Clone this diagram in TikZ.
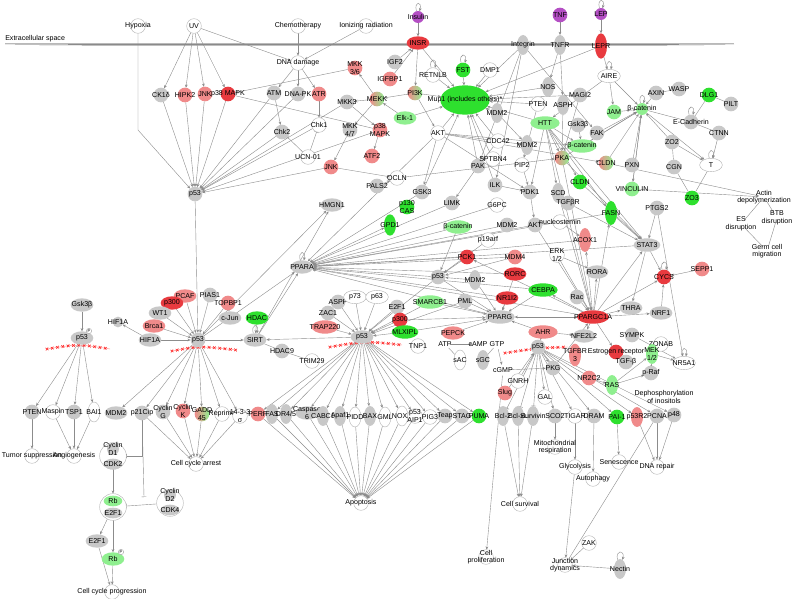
\documentclass[tikz,border=0pt]{standalone}
\usepackage{fontspec}
\setmainfont{Liberation Sans}
\usetikzlibrary{shapes.geometric,arrows.meta,backgrounds,decorations.markings}
\definecolor{ngray}{HTML}{C8C8C8}
\definecolor{nred}{HTML}{E83A3F}
\definecolor{nlred}{HTML}{F08A8A}
\definecolor{ngreen}{HTML}{2EE02E}
\definecolor{nlgreen}{HTML}{8FEF8F}
\definecolor{npurple}{HTML}{B44FC4}
\definecolor{ecol}{HTML}{8C8C8C}
\newcommand\fsz{\fontsize{5.3}{5.7}\selectfont}
\newcommand\Nd[5]{\node[#1,label={[lab]center:{#5}}] (#2) at (#3,#4) {};}
\tikzset{
 nb/.style={inner sep=0pt,outer sep=0pt,line width=0.3pt},
 cir/.style={nb,circle,minimum size=11pt},
 ell/.style={nb,ellipse,minimum width=17pt,minimum height=10pt},
 vel/.style={nb,ellipse,minimum width=9pt,minimum height=15pt},
 tx/.style={nb,circle,minimum size=8pt},
 gy/.style={fill=ngray},
 wh/.style={fill=white,draw=gray!60},
 rd/.style={fill=nred},
 lr/.style={fill=nlred},
 gr/.style={fill=ngreen},
 lg/.style={fill=nlgreen},
 pu/.style={fill=npurple},
 rg/.style={left color=nlred,right color=nlgreen},
 lab/.style={font=\fsz,align=center,inner sep=0pt,text=black},
 ed/.style={draw=ecol,line width=0.3pt,-{Stealth[length=2.4pt,width=2pt]}},
 inh/.style={draw=ecol,line width=0.3pt,-{Bar[width=3.5pt]}},
 ln/.style={draw=ecol,line width=0.3pt},
 lp/.style={ed,loop above,min distance=8pt},
 zz/.style={draw=red!50,line width=0.3pt,postaction={decorate},decoration={markings,mark=between positions 0 and 1 step 4pt with {\draw[red!85,line width=0.45pt] (-1pt,-1pt)--(1pt,1pt) (-1pt,1pt)--(1pt,-1pt);}}},
}
\begin{document}
\begin{tikzpicture}[x=0.75pt,y=-0.75pt]
\useasboundingbox (0,0) rectangle (794,599);
\node[lab,anchor=west] (ecs) at (5,39) {Extracellular space};
% ---- top
\Nd{cir,wh}{hyp}{138}{26}{Hypoxia}
\Nd{cir,wh}{uv}{194}{26}{UV}
\Nd{cir,wh}{chemo}{298}{26}{Chemotherapy}
\Nd{cir,wh}{ion}{366}{26}{Ionizing radiation}
\Nd{cir,pu,minimum size=9pt}{insulin}{418}{17}{Insulin}
\Nd{cir,pu}{tnf}{560}{15}{TNF}
\Nd{cir,pu,minimum size=9pt}{lep}{601}{14}{LEP}
\Nd{ell,rd}{insr}{418}{43}{INSR}
\Nd{vel,gy}{integrin}{523}{45}{Integrin}
\Nd{vel,gy}{tnfr}{560}{45}{TNFR}
\Nd{vel,rd,minimum height=19pt}{lepr}{601}{46}{LEPR}
\Nd{cir,wh}{dnad}{298}{63}{DNA damage}
\Nd{cir,lr}{mkk36}{355}{68}{MKK\\3/6}
\Nd{cir,gy}{igf2}{395}{62}{IGF2}
\Nd{cir,lr}{igfbp1}{390}{79}{IGFBP1}
\Nd{cir,wh}{retnlb}{433}{75}{RETNLB}
\Nd{cir,gr}{fst}{463}{70}{FST}
\Nd{cir,wh}{dmp1}{490}{70}{DMP1}
\Nd{ell,wh}{aire}{609}{76}{AIRE}
\Nd{vel,gy}{nos}{548}{87}{NOS}
\Nd{cir,gy}{magi2}{580}{95}{MAGI2}
\Nd{cir,gy}{axin}{656}{93}{AXIN}
\Nd{cir,gy}{wasp}{679}{89}{WASP}
\Nd{cir,gr}{dlg1}{709}{95}{DLG1}
\Nd{cir,gy}{pilt}{731}{104}{PILT}
\Nd{cir,gy}{ck1d}{161}{95}{CK1δ}
\Nd{cir,lr}{hipk2}{185}{95}{HIPK2}
\Nd{cir,lr}{jnk1}{205}{94}{JNK}
\Nd{cir,rd}{p38a}{228}{94}{p38 MAPK}
\Nd{cir,gy}{atm}{274}{93}{ATM}
\Nd{cir,gy}{dnapk}{298}{94}{DNA-PK}
\Nd{cir,lr}{atr}{319}{94}{ATR}
\Nd{cir,gy}{mkk3}{347}{102}{MKK3}
\Nd{cir,rg}{mekk}{377}{99}{MEKK}
\Nd{cir,rg}{pi3k}{415}{93}{PI3K}
\node[nb,ellipse,gr,minimum width=37pt,minimum height=22pt,label={[lab]center:{Mup1 (includes others)*}}] (mup1) at (465,100) {};
\Nd{vel,gy}{mdm2a}{497}{113}{MDM2}
\Nd{cir,wh}{pten1}{538}{104}{PTEN}
\Nd{vel,gy}{asph}{563}{105}{ASPH}
\Nd{ell,lg}{elk1}{405}{118}{Elk-1}
\Nd{cir,wh}{akt1}{438}{133}{AKT}
\Nd{cir,lg}{jam}{614}{112}{JAM}
\Nd{cir,lg,minimum size=9pt}{bcat1}{642}{109}{β-catenin}
\Nd{cir,gy}{ecad}{691}{122}{E-Cadherin}
\Nd{ell,lg,minimum width=22pt}{htt}{545}{123}{HTT}
\Nd{cir,gy}{gsk3b1}{578}{125}{Gsk3β}
\Nd{ell,lg,minimum width=22pt}{bcat2}{582}{146}{β-catenin}
\Nd{cir,gy}{fak}{597}{133}{FAK}
\Nd{cir,gy}{ctnn}{719}{133}{CTNN}
\Nd{cir,gy}{zo2}{672}{142}{ZO2}
\Nd{cir,gy}{mkk47}{350}{130}{MKK\\4/7}
\Nd{cir,lr}{p38b}{380}{130}{p38\\MAPK}
\Nd{cir,gy}{chk2}{282}{132}{Chk2}
\Nd{cir,wh}{chk1}{319}{125}{Chk1}
\Nd{cir,wh}{cdc42}{498}{141}{CDC42}
\Nd{vel,gy}{mdm2b}{527}{145}{MDM2}
\Nd{cir,gy}{cgn}{674}{167}{CGN}
\Nd{ell,wh}{tt}{711}{165}{T}
\Nd{cir,lr}{atf2}{372}{156}{ATF2}
\Nd{cir,wh}{ucn}{308}{157}{UCN-01}
\Nd{cir,gy}{pak}{478}{166}{PAK}
\Nd{cir,wh}{sptbn4}{493}{159}{SPTBN4}
\Nd{cir,wh}{pip2}{522}{165}{PIP2}
\Nd{cir,rg}{pka}{562}{158}{PKA}
\Nd{cir,rg}{cldn1}{606}{163}{CLDN}
\Nd{cir,gy}{pxn}{632}{165}{PXN}
\Nd{cir,lg}{vinc}{632}{189}{VINCULIN}
\Nd{cir,gr}{zo3}{692}{198}{ZO3}
\Nd{tx}{actin}{764}{197}{Actin\\depolymerization}
\Nd{cir,lr}{jnk2}{331}{167}{JNK}
\Nd{cir,wh}{ocln}{397}{178}{OCLN}
\Nd{cir,gy}{pals2}{377}{186}{PALS2}
\Nd{cir,gy}{gsk3}{422}{192}{GSK3}
\Nd{cir,gy}{ilk}{495}{185}{ILK}
\Nd{cir,gy}{pdk1}{530}{192}{PDK1}
\Nd{vel,gy}{scd}{558}{193}{SCD}
\Nd{cir,gr}{cldn2}{580}{182}{CLDN}
\Nd{cir,gy}{tgfbr}{568}{203}{TGFβR}
\Nd{cir,gy}{limk}{452}{203}{LIMK}
\Nd{cir,wh}{g6pc}{497}{205}{G6PC}
\Nd{cir,gr}{p130}{407}{207}{p130\\CAS}
\Nd{ell,gy}{hmgn1}{332}{205}{HMGN1}
\Nd{cir,gy}{mdm2c}{507}{225}{MDM2}
\Nd{cir,gy}{akt2}{535}{225}{AKT}
\Nd{cir,wh}{nucl}{560}{222}{nucleostemin}
\Nd{vel,gr,minimum height=18pt}{fasn}{611}{213}{FASN}
\Nd{cir,gy}{ptgs2}{657}{208}{PTGS2}
\Nd{tx}{es}{741}{224}{ES\\disruption}
\Nd{tx}{btb}{777}{218}{BTB\\disruption}
\Nd{tx}{germ}{767}{251}{Germ cell\\migration}
\Nd{vel,gr,minimum height=16pt}{gpd1}{390}{225}{GPD1}
\Nd{ell,lg,minimum width=20pt}{bcat3}{458}{227}{β-catenin}
\Nd{vel,lr,minimum height=18pt}{acox1}{585}{240}{ACOX1}
\Nd{cir,wh}{p19}{488}{240}{p19arf}
\Nd{ell,gy,minimum width=20pt}{stat3}{647}{245}{STAT3}
\Nd{cir,wh}{erk}{557}{255}{ERK\\1/2}
\Nd{ell,gy}{ppara}{302}{267}{PPARA}
\Nd{cir,rd}{pck1}{467}{257}{PCK1}
\Nd{cir,lr}{mdm4}{515}{257}{MDM4}
\Nd{ell,rd}{rorc}{515}{274}{RORC}
\Nd{cir,gy}{p53e}{438}{277}{p53}
\Nd{vel,gy}{mdm2d}{475}{280}{MDM2}
\Nd{ell,gy}{rora}{597}{272}{RORA}
\Nd{cir,rd}{cycs}{664}{277}{CYCS}
\Nd{cir,lr}{sepp1}{702}{269}{SEPP1}
\Nd{ell,gr,minimum width=22pt}{cebpa}{543}{290}{CEBPA}
\Nd{ell,rd}{nr1i2}{507}{298}{NR1I2}
\Nd{cir,gy}{rac}{577}{297}{Rac}
\Nd{ell,lg,minimum width=22pt}{smarcb1}{430}{302}{SMARCB1}
\Nd{cir,gy}{pml}{465}{301}{PML}
\Nd{cir,gy}{aspp}{338}{302}{ASPP}
\Nd{ell,wh}{p73}{355}{297}{p73}
\Nd{ell,wh}{p63}{377}{297}{p63}
\Nd{cir,gy}{e2f1a}{397}{307}{E2F1}
\Nd{cir,gy}{zac1}{328}{313}{ZAC1}
\Nd{ell,lr,minimum width=20pt}{trap220}{325}{327}{TRAP220}
\Nd{cir,rd}{p300b}{400}{320}{p300}
\Nd{ell,gr,minimum width=20pt}{mlxipl}{405}{332}{MLXIPL}
\Nd{ell,gy,minimum width=22pt}{pparg}{500}{317}{PPARG}
\Nd{ell,rd,minimum width=24pt}{ppargc1a}{593}{317}{PPARGC1A}
\Nd{ell,gy}{thra}{631}{308}{THRA}
\Nd{ell,gy}{nrf1}{661}{313}{NRF1}
\Nd{cir,gy}{sympk}{632}{335}{SYMPK}
\Nd{cir,wh}{zonab}{661}{344}{ZONAB}
\Nd{ell,wh}{nr5a1}{684}{363}{NR5A1}
\Nd{ell,lr,minimum width=22pt}{ahr}{543}{332}{AHR}
\Nd{ell,gy}{nfe2l2}{584}{336}{NFE2L2}
\Nd{cir,rd}{estr}{616}{352}{Estrogen receptor}
\Nd{cir,gy}{tgfb}{626}{362}{TGF-β}
\Nd{vel,lg}{mek12}{652}{354}{MEK\\1/2}
\Nd{cir,gy}{praf}{651}{373}{p-Raf}
\Nd{vel,lr,minimum height=17pt}{tgfbr3}{575}{355}{TGFBR\\3}
\Nd{cir,lr}{nr2c2}{589}{378}{NR2C2}
\Nd{vel,lg}{ras}{612}{385}{RAS}
\Nd{tx}{deph}{664}{397}{Dephosphorylation\\of inositols}
\Nd{cir,gy}{p53d}{538}{347}{p53}
\Nd{ell,lr}{pepck}{453}{333}{PEPCK}
\Nd{cir,wh}{tnp1}{418}{346}{TNP1}
\Nd{tx}{atp}{445}{344}{ATP}
\Nd{tx}{camp}{478}{344}{cAMP}
\Nd{tx}{gtp}{497}{344}{GTP}
\Nd{vel,wh}{sac}{460}{360}{sAC}
\Nd{vel,gy}{sgc}{483}{360}{sGC}
\Nd{tx}{cgmp}{503}{370}{cGMP}
\Nd{cir,gy}{pkg}{553}{368}{PKG}
\Nd{cir,wh}{gnrh}{518}{381}{GNRH}
\Nd{cir,lr}{slug}{505}{393}{Slug}
\Nd{cir,wh}{gal}{545}{397}{GAL}
\Nd{ell,gy}{sirt}{255}{340}{SIRT}
\Nd{ell,gr}{hdac}{257}{318}{HDAC}
\Nd{cir,gy}{hdac9}{282}{351}{HDAC9}
\Nd{cir,wh}{trim29}{312}{361}{TRIM29}
\Nd{ell,gy}{p53c}{362}{337}{p53}
\Nd{ell,gy}{cjun}{230}{318}{c-Jun}
\Nd{cir,lr}{topbp1}{228}{303}{TOPBP1}
\Nd{cir,gy}{pias1}{210}{295}{PIAS1}
\Nd{cir,gy}{p53a}{195}{194}{p53}
\Nd{cir,gy}{p53b}{198}{340}{p53}
\Nd{ell,lr}{pcaf}{185}{296}{PCAF}
\Nd{ell,rd}{p300a}{172}{303}{p300}
\Nd{ell,gy}{wt1}{160}{313}{WT1}
\Nd{ell,lr}{brca1}{154}{326}{Brca1}
\Nd{cir,gy,minimum size=8pt}{hif1a}{118}{322}{HIF1A}
\Nd{ell,gy}{hif1b}{150}{340}{HIF1A}
\Nd{ell,gy}{gsk3b2}{82}{305}{Gsk3β}
\Nd{ell,gy}{p53l}{82}{338}{p53}
\node[nb,circle,draw=gray!70,fill=white,font=\fontsize{3}{3}\selectfont,minimum size=4pt] (pm1) at (89,331) {P};
% ---- bottom row
\Nd{cir,gy}{pten2}{32}{412}{PTEN}
\Nd{cir,wh}{maspin}{53}{412}{Maspin}
\Nd{cir,gy}{tsp1}{74}{412}{TSP1}
\Nd{vel,wh}{bai1}{94}{412}{BAI1}
\Nd{ell,gy}{mdm2e}{116}{413}{MDM2}
\Nd{cir,gy}{p21}{142}{413}{p21Cip}
\Nd{cir,gy}{cycg}{163}{412}{Cyclin\\G}
\Nd{cir,lr}{cyck}{183}{411}{Cyclin\\K}
\Nd{cir,rg}{gadd}{202}{414}{GADD\\45}
\Nd{cir,wh}{reprimo}{222}{414}{Reprimo}
\Nd{cir,wh}{s1433}{240}{416}{14-3-3\\σ}
\Nd{cir,lr}{perp}{258}{414}{PERP}
\Nd{vel,gy}{fas}{272}{414}{FAS}
\Nd{vel,gy}{dr45}{286}{414}{DR4/5}
\Nd{ell,gy}{casp6}{307}{413}{Caspase\\6}
\Nd{vel,gy}{cabc1}{323}{416}{CABC1}
\Nd{vel,gy}{apaf1}{340}{416}{Apaf1}
\Nd{vel,wh}{pidd}{355}{417}{PIDD}
\Nd{vel,gy}{bax}{370}{416}{BAX}
\Nd{vel,wh}{gml}{385}{417}{GML}
\Nd{vel,wh}{noxa}{402}{416}{NOXA}
\Nd{cir,wh}{aip1}{415}{416}{p53\\AIP1}
\Nd{cir,wh}{pig3}{430}{417}{PIG3}
\Nd{cir,gy}{teap}{445}{416}{Teap}
\Nd{cir,gy}{stag}{462}{416}{STAG}
\Nd{cir,gr}{puma}{479}{416}{PUMA}
\Nd{vel,gy}{bcl2}{503}{416}{Bcl-2}
\Nd{vel,gy}{bclxl}{518}{416}{Bcl-xL}
\Nd{vel,gy}{surv}{533}{416}{Survivin}
\Nd{cir,gy}{sco2}{555}{416}{SCO2}
\Nd{cir,wh}{tigar}{575}{416}{TIGAR}
\Nd{cir,gy}{dram}{594}{416}{DRAM}
\Nd{cir,gr}{pai1}{617}{417}{PAI-1}
\Nd{vel,lr}{p53r2}{637}{417}{p53R2}
\Nd{cir,gy}{pcna}{657}{416}{PCNA}
\Nd{cir,gy}{p48}{674}{415}{p48}
% ---- functions
\Nd{cir,wh}{tumsup}{32}{456}{Tumor suppression}
\Nd{cir,wh}{angio}{74}{456}{Angiogenesis}
\Nd{cir,wh}{cca}{196}{464}{Cell cycle arrest}
\Nd{cir,wh}{apop}{361}{503}{Apoptosis}
\Nd{cir,wh}{mito}{555}{447}{Mitochondrial\\respiration}
\Nd{cir,wh}{glyc}{575}{467}{Glycolysis}
\Nd{cir,wh}{auto}{593}{479}{Autophagy}
\Nd{cir,wh}{senes}{619}{462}{Senescence}
\Nd{cir,wh}{dnar}{657}{467}{DNA repair}
\Nd{cir,wh}{csurv}{520}{504}{Cell survival}
\Nd{cir,wh}{cprol}{486}{557}{Cell\\proliferation}
\Nd{cir,wh}{zak}{589}{543}{ZAK}
\Nd{cir,wh}{junc}{565}{565}{Junction\\dynamics}
\Nd{vel,gy}{nectin}{620}{569}{Nectin}
\Nd{cir,wh}{ccp}{112}{592}{Cell cycle progression}
% ---- complexes
\node[nb,circle,draw=gray!60,fill=white,minimum size=20pt] (cd1) at (113,456) {};
\Nd{cir,gy,minimum size=9pt}{cd1a}{113}{449}{Cyclin\\D1}
\Nd{ell,gy,minimum width=14pt,minimum height=8pt}{cd1b}{113}{464}{CDK2}
\node[nb,circle,draw=gray!60,fill=white,minimum size=20pt] (rbc) at (113,507) {};
\Nd{ell,lg,minimum width=14pt,minimum height=8pt}{rba}{113}{501}{Rb}
\Nd{ell,gy,minimum width=14pt,minimum height=8pt}{rbb}{113}{513}{E2F1}
\node[nb,circle,draw=gray!60,fill=white,minimum size=20pt] (cd2) at (170,503) {};
\Nd{cir,gy,minimum size=9pt}{cd2a}{170}{495}{Cyclin\\D2}
\Nd{ell,gy,minimum width=14pt,minimum height=8pt}{cd2b}{170}{510}{CDK4}
\Nd{ell,gy}{e2f1b}{97}{541}{E2F1}
\Nd{ell,lg}{rb2}{113}{559}{Rb}
\node[nb,circle,draw=gray!70,fill=white,font=\fontsize{3}{3}\selectfont,minimum size=4pt] (pm2) at (121,552) {P};
\coordinate (p21e) at (144,497);
% ================= edges
\begin{pgfonlayer}{background}
\fill[white] (0,0) rectangle (794,599);
\draw[gray!55,line width=0.3pt] (5,43) -- (734,43);
\fill[gray!60!black] (5,44.8) -- (90,44.4) -- (660,44.4) -- (734,44.8) -- (660,45.3) -- (90,45.3) -- cycle;
\draw[ed] (hyp) -- (138,130) -- (p53a);
\foreach \a/\b in {uv/ck1d,uv/hipk2,uv/jnk1,uv/p38a,uv/dnad,chemo/dnad,ion/dnad,dnad/atm,dnad/dnapk,dnad/atr,atm/chk2,atr/chk1,
 ck1d/p53a,hipk2/p53a,jnk1/p53a,p38a/p53a,atm/p53a,dnapk/p53a,chk2/p53a,chk1/p53a,p38b/p53a,jnk2/p53a,mkk3/p53a,
 mkk36/p38a,mekk/mkk36,mekk/mkk3,mekk/mkk47,mkk3/p38b,mkk47/jnk2,p38b/atf2,elk1/mekk,pi3k/mekk,insulin/insr,insr/pi3k,igf2/insr,igfbp1/insr,pi3k/akt1,tnf/tnfr,lep/lepr,tnfr/nos,p53a/p53b,
 insr/mup1,fst/mup1,dmp1/mup1,retnlb/mup1,pi3k/mup1,akt1/mup1,mdm2a/mup1,pten1/mup1,nos/mup1,cdc42/mup1,pak/mup1,ilk/mup1,gsk3/mup1,magi2/mup1,htt/mup1,sptbn4/mup1,elk1/mup1,lepr/mup1,integrin/mup1,
 integrin/ilk,integrin/fak,integrin/pak,tnfr/asph,lepr/aire,aire/jam,aire/htt,aire/bcat1,htt/pka,htt/cldn2,htt/scd,htt/fasn,htt/stat3,htt/pdk1,htt/bcat2,gsk3b1/bcat2,bcat2/bcat1,pka/bcat1,fak/bcat1,cldn1/bcat1,pxn/bcat1,jam/bcat1,vinc/bcat1,zo2/bcat1,bcat1/tt,ctnn/tt,zo2/tt,bcat1/vinc,axin/bcat1,cldn1/actin,vinc/actin,
 akt1/gsk3,akt1/mdm2b,akt1/ppara,akt1/pdk1,akt1/cldn1,akt1/bcat2,pak/limk,cdc42/pak,ilk/pdk1,pdk1/akt2,pip2/pdk1,mdm2a/mdm2b,pten1/pip2,asph/pka,magi2/pka,pals2/ocln,ocln/pka,gsk3/ppara,jnk2/ocln,sirt/hmgn1,p53b/hmgn1,p53b/ppara,
 p53e/ppara,pck1/ppara,mdm4/ppara,rorc/ppara,nr1i2/ppara,cebpa/ppara,pparg/ppara,akt2/ppara,mdm2c/ppara,stat3/ppara,fasn/ppara,acox1/ppara,ppargc1a/ppara,bcat3/ppara,ppara/gpd1,g6pc/ppara,limk/ppara,
 ppargc1a/nrf1,ppargc1a/thra,ppargc1a/cycs,ppargc1a/stat3,ppargc1a/fasn,ppargc1a/acox1,ppargc1a/rora,ppargc1a/estr,ppargc1a/nfe2l2,ppargc1a/pparg,ppargc1a/pck1,ppargc1a/cebpa,nrf1/cycs,sepp1/cycs,stat3/thra,erk/ppargc1a,rac/ppargc1a,akt2/ppargc1a,pkg/ppargc1a,htt/ppargc1a,scd/ppargc1a,tgfbr/stat3,nucl/acox1,erk/rora,stat3/cycs,ptgs2/stat3,fasn/stat3,pka/stat3,cldn2/stat3,pka/ppargc1a,
 cebpa/pparg,nr1i2/pparg,ahr/pparg,pepck/pparg,p53e/pparg,smarcb1/pparg,pml/pparg,mlxipl/pparg,p300b/pparg,rorc/pparg,mdm2d/pparg,
 mdm2d/p53e,mdm4/p53e,p19/p53e,pck1/p53e,bcat3/p53e,ahr/nfe2l2,mek12/nr5a1,sympk/nr5a1,praf/mek12,ras/praf,ras/mek12,nr2c2/ras,tgfb/estr,ptgs2/nr5a1,zonab/mek12,
 atp/camp,gtp/cgmp,cgmp/pkg,p53d/pkg,p53d/gal,gnrh/p53d,slug/p53d,ahr/p53d,
 aspp/p53c,p73/p53c,p63/p53c,e2f1a/p53c,zac1/p53c,trap220/p53c,p300b/p53c,mlxipl/p53c,smarcb1/p53c,pml/p53c,p53e/p53c,
 p53c/sirt,hdac/sirt,p53b/sirt,sirt/ppara,
 pias1/p53b,topbp1/p53b,pcaf/p53b,p300a/p53b,wt1/p53b,brca1/p53b,hif1b/p53b,topbp1/cjun,hif1b/hif1a,gsk3b2/p53l}
 \draw[ed] (\a) -- (\b);
\foreach \a/\b in {p38a/p38b,hdac9/trim29,wasp/axin,dlg1/ecad,dlg1/pilt,ecad/ctnn,bcat1/ecad,zo2/cgn,cgn/zo3,tt/zo3,actin/es,actin/btb,es/germ,btb/germ,atp/sac,gtp/sgc,sirt/hdac9,pcna/junc}
 \draw[ln] (\a) -- (\b);
\foreach \a/\b in {ucn/chk1,ucn/chk2,p53d/bcl2,p53d/bclxl,p53d/surv,cd2/rbc}
 \draw[inh] (\a) -- (\b);
\draw[inh] (p21) |- (cd1);
\draw[inh] (p21) -- (p21e);
\foreach \b in {pten2,maspin,tsp1,bai1} \draw[ed] (p53l) -- (\b);
\foreach \b in {mdm2e,p21,cycg,cyck,gadd,reprimo,s1433} \draw[ed] (p53b) -- (\b);
\foreach \b in {perp,fas,dr45,casp6,cabc1,apaf1,pidd,bax,gml,noxa,aip1,pig3,teap,stag,puma} \draw[ed] (p53c) -- (\b);
\foreach \b in {sco2,tigar,dram,pai1,p53r2,pcna,p48} \draw[ed] (p53d) -- (\b);
\foreach \b in {perp,fas,dr45,casp6,cabc1,apaf1,pidd,bax,gml,noxa,aip1,pig3,teap,stag,puma} \draw[ed] (\b) -- (apop);
\foreach \a/\b in {pten2/tumsup,maspin/angio,tsp1/angio,bai1/angio,p21/cca,cycg/cca,cyck/cca,gadd/cca,reprimo/cca,s1433/cca,bcl2/csurv,bclxl/csurv,surv/csurv,sco2/mito,tigar/glyc,dram/auto,pai1/senes,p53r2/dnar,pcna/dnar,p48/dnar,glyc/junc,zak/junc,nectin/junc,cgmp/cprol,cd1/rbc,rbc/rb2,rbc/e2f1b,e2f1b/ccp,rb2/ccp}
 \draw[ed] (\a) -- (\b);
\foreach \n in {insulin,lep,fst,retnlb,ecad,tt,cycs,nr5a1,ppara,sirt,nectin,bcat1,aire}
 \path (\n) edge[lp] (\n);
\path[zz] (47,349) .. controls (78,344) .. (110,349);
\path[zz] (172,351) .. controls (200,346) .. (236,350);
\path[zz] (330,347) .. controls (365,341) .. (402,345);
\path[zz] (505,353) .. controls (538,348) .. (568,347);
\end{pgfonlayer}
\end{tikzpicture}
\end{document}
